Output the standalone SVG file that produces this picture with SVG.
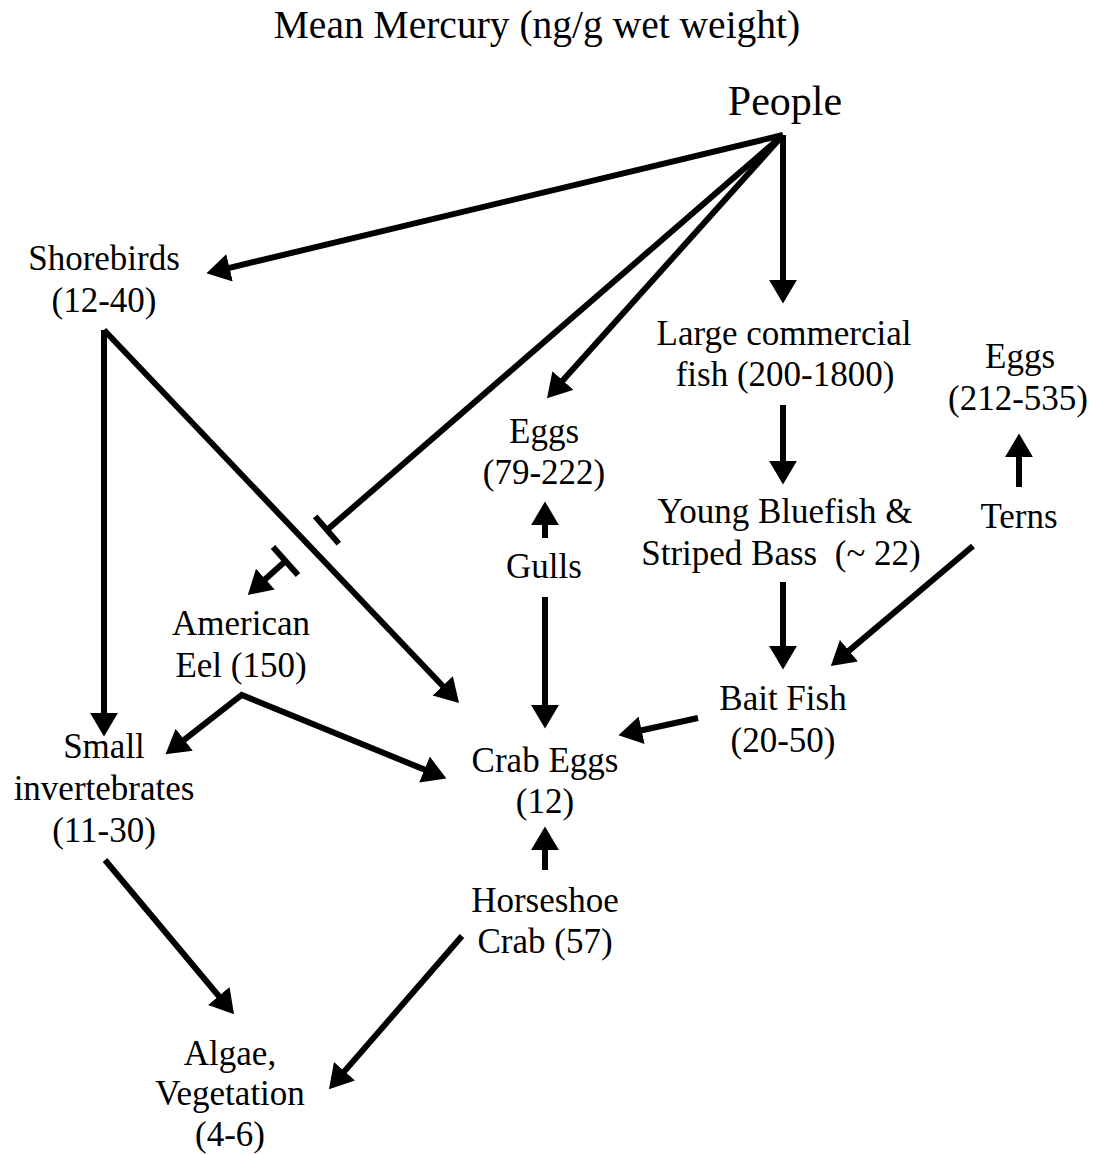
<svg xmlns="http://www.w3.org/2000/svg" width="1101" height="1155" viewBox="0 0 1101 1155">
<style>
text{font-family:"Liberation Serif","Times New Roman",serif;fill:#000;text-anchor:middle;font-size:35px}
.title{font-size:39.5px}
.big{font-size:42px}
.c{stroke:#000;stroke-width:6;fill:none}
.a{marker-end:url(#ah)}
</style>
<defs>
<marker id="ah" markerUnits="userSpaceOnUse" markerWidth="24" markerHeight="28" viewBox="0 0 22 26" refX="2" refY="13" orient="auto-start-reverse">
<path d="M0,0 L22,13 L0,26 Z" fill="#000"/>
</marker>
</defs>
<rect width="1101" height="1155" fill="#fff"/>
<text class="title" x="537" y="38">Mean Mercury (ng/g wet weight)</text>

<g id="connectors">
<line class="c a" x1="783" y1="135" x2="227.4" y2="268.3"/>
<line class="c a" x1="783" y1="135" x2="561.4" y2="382.1"/>
<line class="c" x1="783" y1="135" x2="327" y2="530"/>
<line class="c" x1="315.2" y1="516.4" x2="338.8" y2="543.6"/>
<line class="c a" x1="783" y1="135" x2="783" y2="282"/>
<line class="c" x1="273" y1="547" x2="298" y2="575"/>
<line class="c a" x1="285.5" y1="561" x2="263.8" y2="580.6"/>
<line class="c a" x1="104" y1="330" x2="104" y2="715"/>
<line class="c a" x1="104" y1="330" x2="444.2" y2="687.5"/>
<path class="c" d="M182.5,741.1 L241.7,695 L426.5,770.4" marker-start="url(#ah)" marker-end="url(#ah)"/>
<line class="c a" x1="545" y1="597" x2="545" y2="707"/>
<line class="c a" x1="545" y1="538" x2="545" y2="523"/>
<line class="c a" x1="783" y1="405" x2="783" y2="463"/>
<line class="c a" x1="783" y1="582" x2="783" y2="648"/>
<line class="c a" x1="973" y1="546" x2="847.3" y2="652.1"/>
<line class="c a" x1="1019" y1="487" x2="1019" y2="455"/>
<line class="c a" x1="698" y1="718" x2="639.5" y2="730.7"/>
<line class="c a" x1="545" y1="870" x2="545" y2="848"/>
<line class="c a" x1="462" y1="936" x2="343.1" y2="1072.9"/>
<line class="c a" x1="105" y1="860" x2="220.2" y2="997.7"/>
</g>

<g id="people"><text class="big" x="785" y="115">People</text></g>
<g id="shorebirds"><text x="104" y="270">Shorebirds</text><text x="104" y="312">(12-40)</text></g>
<g id="large-fish"><text x="784" y="345">Large commercial</text><text x="785" y="386">fish (200-1800)</text></g>
<g id="tern-eggs"><text x="1020" y="368">Eggs</text><text x="1018" y="410">(212-535)</text></g>
<g id="gull-eggs"><text x="544" y="443">Eggs</text><text x="544" y="484">(79-222)</text></g>
<g id="young-fish"><text x="785" y="523">Young Bluefish &amp;</text><text x="781" y="565" xml:space="preserve">Striped Bass  (~ 22)</text></g>
<g id="terns"><text x="1019" y="528">Terns</text></g>
<g id="gulls"><text x="544" y="578">Gulls</text></g>
<g id="eel"><text x="241" y="635">American</text><text x="241" y="677">Eel (150)</text></g>
<g id="bait"><text x="783" y="710">Bait Fish</text><text x="783" y="752">(20-50)</text></g>
<g id="small-inv"><text x="104" y="758">Small</text><text x="104" y="800">invertebrates</text><text x="104" y="842">(11-30)</text></g>
<g id="crab-eggs"><text x="545" y="772">Crab Eggs</text><text x="545" y="813">(12)</text></g>
<g id="horseshoe"><text x="545" y="912">Horseshoe</text><text x="545" y="953">Crab (57)</text></g>
<g id="algae"><text x="230" y="1065">Algae,</text><text x="230" y="1105">Vegetation</text><text x="230" y="1146">(4-6)</text></g>
</svg>
